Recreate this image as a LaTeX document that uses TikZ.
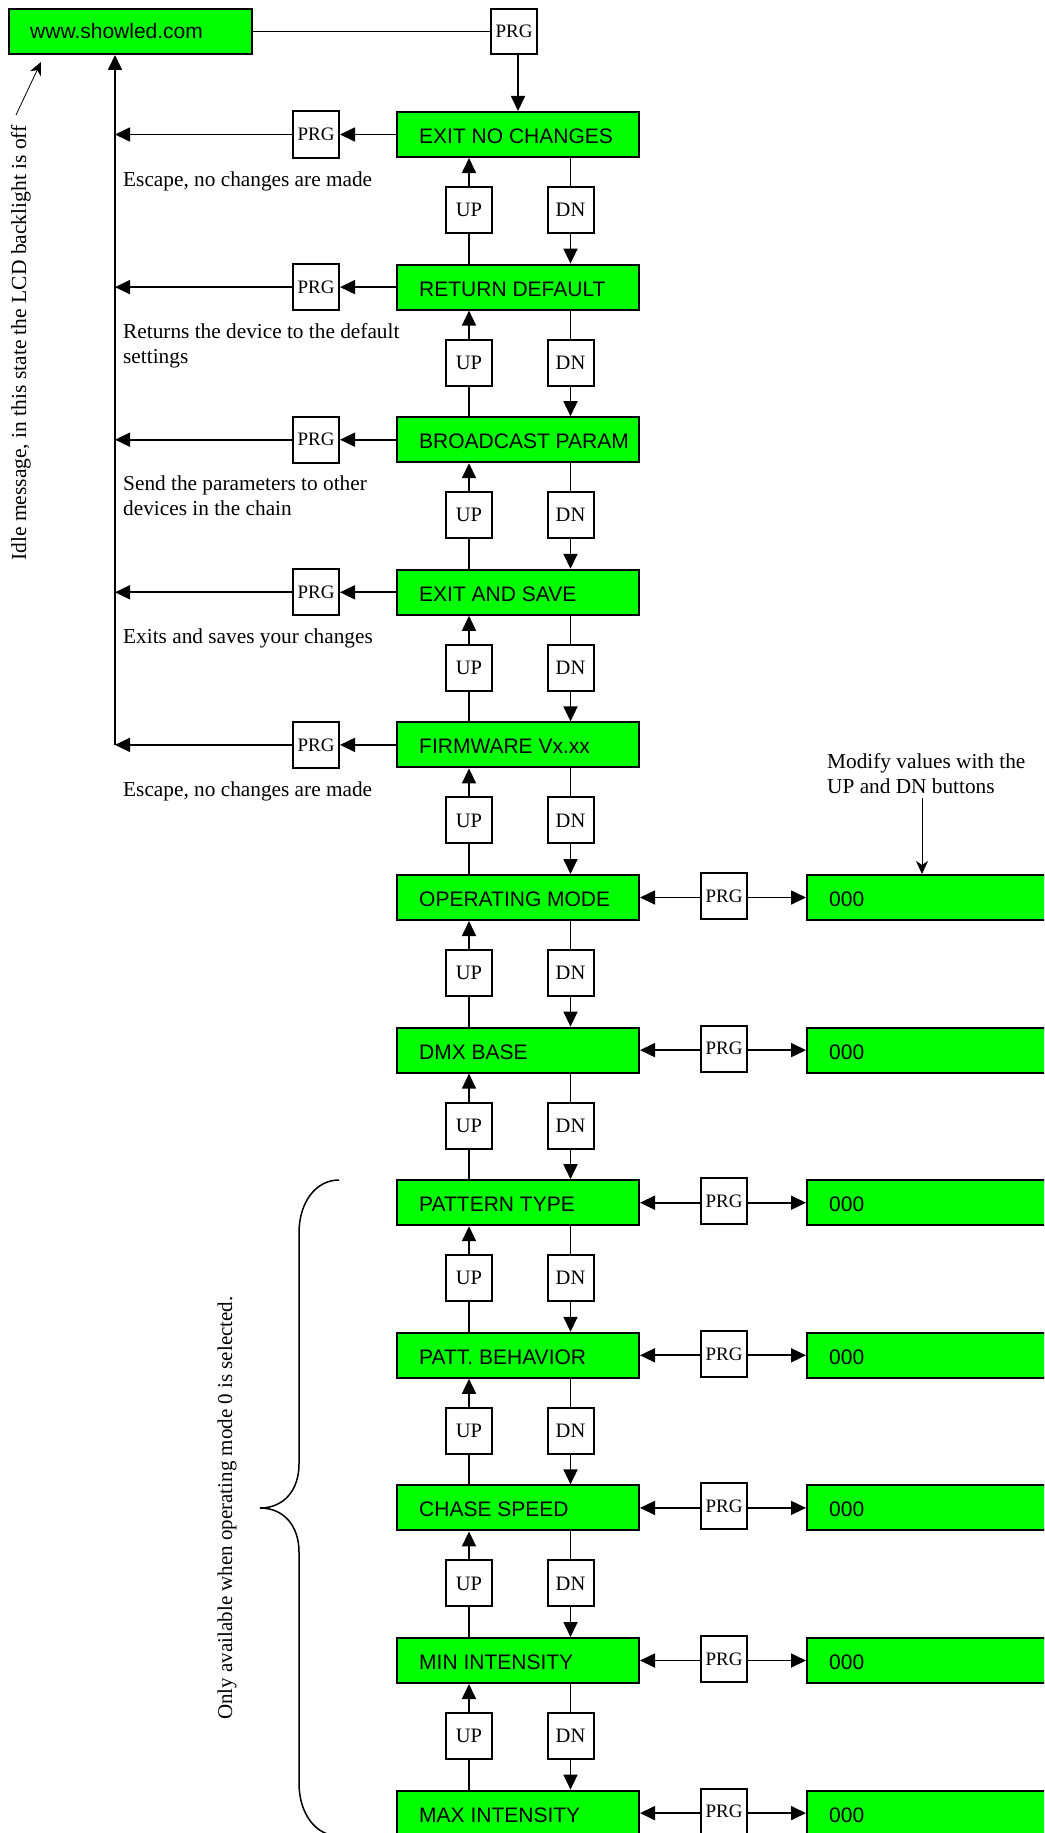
\documentclass[tikz,border=0pt]{standalone}
\usepackage{fontspec}
\setmainfont{Liberation Serif}
\setsansfont{Liberation Sans}
\usetikzlibrary{arrows.meta,calc}
\definecolor{lcdgreen}{HTML}{00FF00}
\tikzset{
  gbox/.style={draw=black, line width=2pt, fill=lcdgreen, minimum width=242pt, minimum height=45pt, inner sep=0pt},
  vbox/.style={draw=black, line width=2pt, fill=lcdgreen, minimum width=320pt, minimum height=45pt, inner sep=0pt},
  gtext/.style={font=\sffamily\fontsize{21}{25}\selectfont, inner sep=0pt, text height=15pt, text depth=0pt, anchor=west},
  btn/.style={draw=black, line width=2pt, fill=white, minimum width=46pt, minimum height=46pt, inner sep=0pt, font=\rmfamily\fontsize{20.5}{24}\selectfont},
  prgbtn/.style={btn, font=\rmfamily\fontsize{19}{22}\selectfont},
  desc/.style={font=\rmfamily\fontsize{21.3}{25}\selectfont, inner sep=0pt, anchor=base west},
  ln/.style={line width=1.7pt},
  arr/.style={line width=1.7pt, -{Triangle[length=15pt,width=14pt]}},
  thinarr/.style={line width=0.8pt, -{Stealth[length=13pt,width=12pt,inset=4pt]}},
}
\begin{document}
\begin{tikzpicture}[x=1pt,y=-1pt]
\clip (0,0) rectangle (1044,1833);
\fill[white] (0,0) rectangle (1044,1833);

% top idle box
\node[gbox, minimum width=243pt] (www) at (130.5,31.5) {};
\node[gtext] (wwwt) at (30,31.5) {www.showled.com};
\node[prgbtn, minimum height=45pt] (tp) at (514,31.5) {PRG};

% rows
\foreach \i/\lab in {0/EXIT NO CHANGES,1/RETURN DEFAULT,2/BROADCAST PARAM,3/EXIT AND SAVE,4/FIRMWARE Vx.xx,5/OPERATING MODE,6/DMX BASE,7/PATTERN TYPE,8/PATT. BEHAVIOR,9/CHASE SPEED,10/MIN INTENSITY,11/MAX INTENSITY}{
  \pgfmathsetmacro\yc{134.5+152.6*\i}
  \node[gbox] (r\i) at (518,\yc) {};
  \node[gtext] (r\i t) at (419,\yc+1.5) {\lab};
}

% up / dn buttons
\foreach \i in {0,...,10}{
  \pgfmathtruncatemacro\j{\i+1}
  \pgfmathsetmacro\yb{134.5+152.6*\i+75.5}
  \node[btn] (up\i) at (469,\yb) {UP};
  \node[btn] (dn\i) at (570.5,\yb) {DN};
  \draw[ln] (r\j.north -| up\i.south) -- (up\i.south);
  \draw[arr] (up\i.north) -- (r\i.south -| up\i.north);
  \draw[ln] (r\i.south -| dn\i.north) -- (dn\i.north);
  \draw[arr] (dn\i.south) -- (r\j.north -| dn\i.south);
}

% left PRG buttons and return line
\foreach \i in {0,...,4}{
  \pgfmathsetmacro\yc{134.5+152.6*\i}
  \node[prgbtn] (lp\i) at (316,\yc) {PRG};
  \coordinate (v\i) at (115,\yc);
  \draw[arr] (r\i.west) -- (lp\i.east);
  \draw[arr] (lp\i.west) -- (v\i);
}
\draw[arr] (v4) -- (www.south -| v4);

% top connection
\draw[ln] (www.east) -- (tp.west);
\draw[arr] (tp.south -| r0.north) -- (r0.north);

% right PRG buttons and value boxes
\foreach \i in {5,...,11}{
  \pgfmathsetmacro\yc{134.5+152.6*\i}
  \node[prgbtn] (rp\i) at (724,\yc-1.5) {PRG};
  \node[vbox] (val\i) at (967,\yc) {};
  \node[gtext] (val\i t) at (829,\yc+1.5) {000};
  \draw[arr] (rp\i.west |- r\i.east) -- (r\i.east);
  \draw[arr] (rp\i.east |- r\i.east) -- (val\i.west);
}

% left descriptions
\node[desc] (d0) at (123,186) {Escape, no changes are made};
\node[desc] (d1a) at (123,338) {Returns the device to the default};
\node[desc] (d1b) at (123,363) {settings};
\node[desc] (d2a) at (123,490.5) {Send the parameters to other};
\node[desc] (d2b) at (123,515.5) {devices in the chain};
\node[desc] (d3) at (123,643) {Exits and saves your changes};
\node[desc] (d4) at (123,796) {Escape, no changes are made};

% idle note
\node[font=\rmfamily\fontsize{21.5}{25}\selectfont, inner sep=0pt, rotate=90] (idle) at (21,343) {Idle message, in this state the LCD backlight is off};
\coordinate (idleA) at (16,115);
\coordinate (idleB) at (41,62);
\draw[thinarr] (idleA) -- (idleB);

% modify note
\node[desc] (m1) at (827,768) {Modify values with the};
\node[desc] (m2) at (827,793) {UP and DN buttons};
\coordinate (mA) at (922,798);
\draw[thinarr] (mA) -- (val5.north -| mA);

% brace
\draw[line width=1.5pt] (339,1180) .. controls (316,1180) and (299,1202) .. (299,1233)
  -- (299,1464) .. controls (299,1490) and (284,1508) .. (260,1508)
  .. controls (284,1508) and (299,1526) .. (299,1552)
  -- (299,1783) .. controls (299,1814) and (316,1836) .. (339,1836);
\node[font=\rmfamily\fontsize{21}{25}\selectfont, inner sep=0pt, rotate=90] (only) at (227,1508) {Only available when operating mode 0 is selected.};
\end{tikzpicture}
\end{document}
